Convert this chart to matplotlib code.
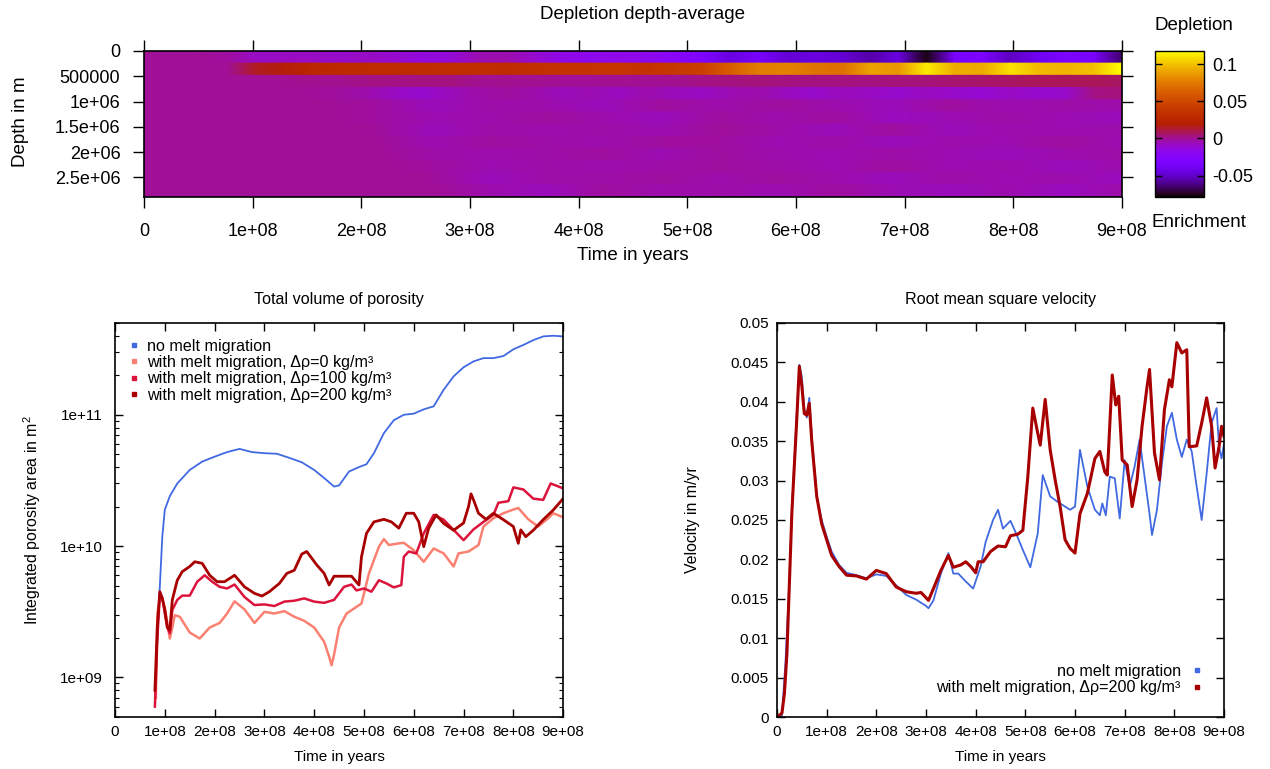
import numpy as np
import matplotlib
matplotlib.use("Agg")
import matplotlib.pyplot as plt
from matplotlib.ticker import FuncFormatter, MultipleLocator, LogLocator, NullFormatter
from matplotlib.cm import ScalarMappable
from matplotlib.colors import Normalize
from matplotlib.lines import Line2D

plt.rcParams['font.family'] = 'Liberation Sans'
plt.rcParams['mathtext.fontset'] = 'custom'
plt.rcParams['mathtext.rm'] = 'Liberation Sans'
plt.rcParams['mathtext.it'] = 'Liberation Sans:italic'
plt.rcParams['axes.linewidth'] = 1.2

MYR100 = 1e8  # time values below are given in units of 1e8 years

# ---- depth-averaged depletion (rows from surface downwards, samples evenly spread 0..9e8 yr) ----
depth_bottom = 2.89e6
dep_row_1 = [0, 0, 0, -0.002, -0.008, -0.008, -0.008, -0.009, -0.008, -0.010, -0.013, -0.012,
             -0.005, -0.004, -0.010, -0.016, -0.018, -0.016, -0.018, -0.022, -0.030, -0.045,
             -0.035, -0.048, -0.045, -0.048, -0.056, -0.045, -0.076, -0.035, -0.032, -0.052,
             -0.040, -0.032, -0.035, -0.065]
dep_row_2 = [0, 0, 0, 0, 0.015, 0.018, 0.026, 0.029, 0.030, 0.031, 0.031, 0.032,
             0.032, 0.031, 0.034, 0.036, 0.037, 0.038, 0.036, 0.040, 0.045, 0.062,
             0.076, 0.078, 0.072, 0.070, 0.090, 0.086, 0.112, 0.094, 0.092, 0.110,
             0.098, 0.096, 0.100, 0.118]
dep_row_3 = [0, 0, 0, 0, 0, 0, 0.001, 0.001, 0.002, 0.002, 0.003, 0.003,
             0.001, 0.001, 0.001, 0.000, 0.000, 0.001, 0.000, 0.001, 0.002, 0.003,
             0.004, 0.003, 0.003, 0.003, 0.003, 0.004, 0.004, 0.005, 0.006, 0.007,
             0.008, 0.008, 0.008, 0.007]
dep_row_4 = [0, 0, 0, 0, 0, 0, -0.001, -0.002, -0.004, -0.008, -0.010, -0.006,
             -0.003, -0.002, -0.004, -0.006, -0.005, -0.007, -0.004, -0.006, -0.008, -0.005,
             -0.004, -0.007, -0.009, -0.006, -0.008, -0.010, -0.007, -0.009, -0.011, -0.008,
             -0.010, -0.009, 0.002, 0.004]
dep_row_5 = [0, 0, 0, 0, -0.002, -0.006, -0.003, -0.004, -0.006, -0.002, -0.004, -0.002,
             -0.004, -0.006, -0.002, -0.005, -0.003, -0.004]
dep_row_6 = [0, 0, 0, 0, -0.002, -0.005, -0.004, -0.002, -0.004, -0.006, -0.002, -0.004,
             -0.002, -0.007, -0.005, -0.003, -0.005, -0.006]
dep_row_7 = [0, 0, 0, 0, -0.001, -0.006, -0.003, -0.004, -0.003, -0.005, -0.001, -0.003,
             -0.006, -0.002, -0.006, -0.004, -0.005, -0.004]
dep_row_8 = [0, 0, 0, 0, 0, -0.005, -0.002, -0.003, -0.004, -0.002, -0.002, -0.005,
             -0.003, -0.006, -0.004, -0.005, -0.002, -0.005]
dep_row_9 = [0, 0, 0, 0, 0, -0.003, -0.004, -0.003, -0.002, -0.005, -0.002, -0.004,
             -0.005, -0.003, -0.005, -0.006, -0.004, -0.003]
dep_row_10 = [0, 0, 0, 0, 0, -0.002, -0.005, -0.003, -0.004, -0.003, -0.002, -0.003,
              -0.005, -0.002, -0.005, -0.004, -0.006, -0.004]
dep_row_11 = [0, 0, 0, 0, 0, -0.001, -0.006, -0.003, -0.003, -0.002, -0.004, -0.002,
              -0.004, -0.006, -0.003, -0.005, -0.004, -0.007]
dep_row_12 = [0, 0, 0, 0, 0, 0, -0.004, -0.006, -0.002, -0.004, -0.003, -0.005,
              -0.002, -0.005, -0.006, -0.004, -0.007, -0.003]
dep_rows = [dep_row_1, dep_row_2, dep_row_3, dep_row_4, dep_row_5, dep_row_6,
            dep_row_7, dep_row_8, dep_row_9, dep_row_10, dep_row_11, dep_row_12]
dep_min, dep_max = -0.079, 0.118

# ---- total volume of porosity ----
por_t_nomelt = [0.80, 0.85, 0.90, 0.95, 1.00, 1.10, 1.25, 1.50, 1.75, 2.00, 2.25, 2.50, 2.75,
                3.00, 3.25, 3.50, 3.75, 4.00, 4.20, 4.40, 4.50, 4.70, 4.90, 5.05, 5.20, 5.40,
                5.60, 5.80, 6.00, 6.20, 6.40, 6.60, 6.80, 7.00, 7.20, 7.40, 7.60, 7.80, 8.00,
                8.20, 8.40, 8.60, 8.80, 9.00]
por_nomelt = [7e8, 2e9, 5e9, 1.2e10, 1.9e10, 2.4e10, 3.0e10, 3.8e10, 4.4e10, 4.8e10, 5.2e10,
              5.5e10, 5.2e10, 5.1e10, 5.05e10, 4.7e10, 4.35e10, 3.8e10, 3.3e10, 2.84e10,
              2.9e10, 3.7e10, 4.0e10, 4.2e10, 5.1e10, 7.25e10, 9.1e10, 1.0e11, 1.02e11,
              1.1e11, 1.16e11, 1.55e11, 1.96e11, 2.3e11, 2.55e11, 2.7e11, 2.7e11, 2.8e11,
              3.15e11, 3.4e11, 3.7e11, 3.95e11, 4.0e11, 3.95e11]

por_t_d0 = [0.82, 0.85, 0.90, 0.95, 1.00, 1.05, 1.10, 1.15, 1.20, 1.30, 1.50, 1.70, 1.90,
            2.10, 2.25, 2.40, 2.60, 2.80, 3.00, 3.20, 3.40, 3.60, 3.80, 4.00, 4.20, 4.30,
            4.35, 4.40, 4.50, 4.65, 4.80, 4.95, 5.10, 5.30, 5.40, 5.50, 5.70, 5.80, 6.00,
            6.20, 6.40, 6.60, 6.80, 6.90, 7.10, 7.30, 7.40, 7.60, 7.80, 8.00, 8.10, 8.30,
            8.50, 8.70, 8.80, 9.00]
por_d0 = [7e8, 3.07e9, 4.1e9, 3.9e9, 3.4e9, 2.6e9, 1.98e9, 2.4e9, 2.98e9, 2.9e9, 2.2e9,
          1.98e9, 2.4e9, 2.6e9, 3.07e9, 3.8e9, 3.3e9, 2.6e9, 3.16e9, 3.07e9, 3.2e9, 2.9e9,
          2.7e9, 2.4e9, 1.87e9, 1.44e9, 1.24e9, 1.5e9, 2.4e9, 3.07e9, 3.35e9, 3.66e9,
          6.2e9, 9.9e9, 1.13e10, 1.02e10, 1.05e10, 1.06e10, 9.3e9, 7.6e9, 9.6e9, 8.8e9,
          7.0e9, 8.8e9, 9.1e9, 1.02e10, 1.41e10, 1.63e10, 1.78e10, 1.9e10, 1.95e10,
          1.6e10, 1.41e10, 1.63e10, 1.78e10, 1.66e10]

por_t_d100 = [0.80, 0.85, 0.90, 0.95, 1.00, 1.05, 1.10, 1.15, 1.25, 1.35, 1.50, 1.65, 1.80,
              1.95, 2.10, 2.25, 2.40, 2.60, 2.80, 3.00, 3.20, 3.40, 3.60, 3.80, 4.00, 4.20,
              4.40, 4.60, 4.75, 4.85, 5.00, 5.15, 5.30, 5.45, 5.60, 5.75, 5.80, 5.90, 6.05,
              6.20, 6.40, 6.60, 6.80, 7.00, 7.20, 7.40, 7.60, 7.70, 7.90, 8.00, 8.20, 8.40,
              8.60, 8.75, 8.90, 9.00]
por_d100 = [6e8, 2e9, 4.37e9, 4.0e9, 3.07e9, 2.4e9, 2.17e9, 3.26e9, 3.9e9, 4.2e9, 4.2e9,
            5.36e9, 6.0e9, 5.36e9, 4.9e9, 4.76e9, 5.1e9, 4.1e9, 3.56e9, 3.6e9, 3.5e9, 3.78e9,
            3.84e9, 4.0e9, 3.78e9, 3.7e9, 3.9e9, 4.9e9, 5.1e9, 4.6e9, 4.76e9, 4.5e9, 5.5e9,
            5.2e9, 4.85e9, 5.05e9, 8.3e9, 9.1e9, 8.8e9, 1.25e10, 1.73e10, 1.59e10, 1.33e10,
            1.11e10, 1.34e10, 1.53e10, 1.73e10, 2.14e10, 2.2e10, 2.8e10, 2.7e10, 2.3e10,
            2.25e10, 3.0e10, 2.85e10, 2.75e10]

por_t_d200 = [0.80, 0.85, 0.90, 0.95, 1.00, 1.05, 1.10, 1.15, 1.25, 1.35, 1.50, 1.60, 1.75,
              1.90, 2.05, 2.20, 2.40, 2.60, 2.80, 2.95, 3.10, 3.30, 3.45, 3.60, 3.75, 3.85,
              3.95, 4.05, 4.20, 4.30, 4.40, 4.60, 4.75, 4.90, 4.95, 5.05, 5.20, 5.40, 5.55,
              5.70, 5.85, 6.00, 6.10, 6.20, 6.30, 6.45, 6.60, 6.80, 7.00, 7.10, 7.15, 7.20,
              7.30, 7.45, 7.60, 7.80, 8.00, 8.10, 8.15, 8.25, 8.40, 8.60, 8.80, 9.00]
por_d200 = [8e8, 2.5e9, 4.5e9, 4.0e9, 3.26e9, 2.4e9, 2.3e9, 3.9e9, 5.5e9, 6.4e9, 7.0e9,
            7.6e9, 7.4e9, 6.0e9, 5.36e9, 5.36e9, 6.0e9, 4.9e9, 4.37e9, 4.17e9, 4.5e9, 5.2e9,
            6.2e9, 6.55e9, 8.7e9, 9.1e9, 8.1e9, 7.2e9, 6.2e9, 5.06e9, 5.9e9, 5.9e9, 5.9e9,
            5.06e9, 8.3e9, 1.25e10, 1.53e10, 1.6e10, 1.53e10, 1.37e10, 1.78e10, 1.78e10,
            1.53e10, 9.9e9, 1.37e10, 1.73e10, 1.49e10, 1.32e10, 1.5e10, 2.0e10, 2.5e10,
            2.25e10, 1.78e10, 1.6e10, 1.78e10, 1.59e10, 1.41e10, 1.05e10, 1.33e10, 1.18e10,
            1.32e10, 1.59e10, 1.88e10, 2.3e10]

# ---- root mean square velocity ----
vel_t_nomelt = [0.00, 0.10, 0.17, 0.25, 0.30, 0.40, 0.45, 0.50, 0.55, 0.60, 0.65, 0.70, 0.80,
                0.90, 1.00, 1.10, 1.25, 1.40, 1.60, 1.80, 2.00, 2.20, 2.40, 2.60, 2.80, 3.00,
                3.05, 3.15, 3.30, 3.45, 3.55, 3.65, 3.80, 3.95, 4.10, 4.20, 4.35, 4.45, 4.55,
                4.70, 4.80, 4.95, 5.10, 5.25, 5.35, 5.50, 5.65, 5.80, 5.90, 6.00, 6.10, 6.25,
                6.40, 6.50, 6.55, 6.62, 6.70, 6.80, 6.90, 7.00, 7.10, 7.20, 7.30, 7.40, 7.50,
                7.55, 7.65, 7.75, 7.85, 7.95, 8.05, 8.15, 8.25, 8.35, 8.45, 8.55, 8.65, 8.75,
                8.85, 8.90, 8.95, 9.00]
vel_nomelt = [0.0, 0.0002, 0.0068, 0.0174, 0.0263, 0.0386, 0.0447, 0.0432, 0.039, 0.038,
              0.0405, 0.0356, 0.028, 0.025, 0.0229, 0.021, 0.0193, 0.0183, 0.018, 0.0176,
              0.0181, 0.0179, 0.0167, 0.0155, 0.0149, 0.0141, 0.0138, 0.0148, 0.0182,
              0.0208, 0.0182, 0.0182, 0.0172, 0.0163, 0.0191, 0.0222, 0.025, 0.0263, 0.0239,
              0.0249, 0.0235, 0.0212, 0.019, 0.0233, 0.0307, 0.028, 0.0273, 0.0267, 0.0263,
              0.0267, 0.0339, 0.0292, 0.0263, 0.0256, 0.0271, 0.0256, 0.0305, 0.0303, 0.0252,
              0.0326, 0.0292, 0.0318, 0.0352, 0.0305, 0.0258, 0.0231, 0.0263, 0.0322, 0.0369,
              0.0386, 0.0352, 0.033, 0.0352, 0.0337, 0.0292, 0.025, 0.0309, 0.0373, 0.0392,
              0.0343, 0.0328, 0.0347]

vel_t_d200 = [0.00, 0.10, 0.15, 0.20, 0.25, 0.30, 0.40, 0.45, 0.50, 0.55, 0.60, 0.65, 0.70,
              0.80, 0.90, 1.00, 1.10, 1.25, 1.40, 1.60, 1.80, 2.00, 2.20, 2.40, 2.60, 2.80,
              2.90, 3.05, 3.15, 3.30, 3.45, 3.55, 3.70, 3.80, 3.90, 4.00, 4.05, 4.15, 4.30,
              4.45, 4.60, 4.70, 4.85, 4.95, 5.05, 5.15, 5.25, 5.30, 5.40, 5.50, 5.60, 5.70,
              5.80, 5.90, 6.00, 6.10, 6.25, 6.40, 6.50, 6.60, 6.65, 6.75, 6.82, 6.88, 6.95,
              7.05, 7.15, 7.25, 7.35, 7.45, 7.50, 7.60, 7.70, 7.80, 7.90, 7.95, 8.05, 8.15,
              8.25, 8.30, 8.45, 8.55, 8.65, 8.75, 8.82, 8.90, 8.95, 9.00]
vel_d200 = [0.0, 0.0005, 0.003, 0.008, 0.017, 0.026, 0.038, 0.0445, 0.042, 0.0385, 0.0383,
            0.0398, 0.035, 0.028, 0.0245, 0.0225, 0.0205, 0.0191, 0.018, 0.0179, 0.0175,
            0.0186, 0.0182, 0.0165, 0.0159, 0.0157, 0.0158, 0.0148, 0.0163, 0.0186, 0.0205,
            0.019, 0.0193, 0.0197, 0.0191, 0.0183, 0.0197, 0.0197, 0.021, 0.0217, 0.0216,
            0.023, 0.0232, 0.0237, 0.0305, 0.0392, 0.036, 0.0345, 0.0403, 0.0339, 0.0301,
            0.0267, 0.0225, 0.0214, 0.0208, 0.0258, 0.0284, 0.0328, 0.0337, 0.0311, 0.0307,
            0.0434, 0.0396, 0.0407, 0.0326, 0.032, 0.0267, 0.0301, 0.0369, 0.0419, 0.0441,
            0.0335, 0.0301, 0.039, 0.0428, 0.0419, 0.0475, 0.0462, 0.0466, 0.0343, 0.0344,
            0.0373, 0.0405, 0.0369, 0.0316, 0.0343, 0.0369, 0.0356]

c_nomelt = '#4169e1'
c_d0 = '#fa8072'
c_d100 = '#dc143c'
c_d200 = '#a80000'

gfmt = FuncFormatter(lambda v, p: f"{v:g}")

fig = plt.figure(figsize=(12.7, 7.69), dpi=100)

# ---------------- depletion heat map ----------------
ax_h = fig.add_axes([0.1134, 0.7438, 0.770, 0.1899])
cmap = plt.get_cmap('gnuplot')
norm = Normalize(dep_min, dep_max)
n_rows = len(dep_rows)
row_h = depth_bottom / n_rows
for k, row in enumerate(dep_rows):
    # gouraud shading along time only: same values on the upper and lower edge of each layer
    t_samples = np.linspace(0, 9 * MYR100, len(row))
    X, Y = np.meshgrid(t_samples, [k * row_h, (k + 1) * row_h])
    C = np.vstack([row, row])
    ax_h.pcolormesh(X, Y, C, cmap=cmap, norm=norm, shading='gouraud', rasterized=True)
ax_h.set_xlim(0, 9 * MYR100)
ax_h.set_ylim(depth_bottom, 0)
ax_h.xaxis.set_major_locator(MultipleLocator(1e8))
ax_h.yaxis.set_major_locator(MultipleLocator(5e5))
ax_h.xaxis.set_major_formatter(gfmt)
ax_h.yaxis.set_major_formatter(gfmt)
ax_h.tick_params(direction='out', length=8, width=1.0, labelsize=13, pad=11,
                 top=True, right=True)
ax_h.tick_params(axis='y', pad=9)
ax_h.set_xlabel('Time in years', fontsize=13.5, labelpad=5)
fig.text(0.016, 0.842, 'Depth in m', rotation=90, fontsize=13.5, ha='center', va='center')
fig.text(0.506, 0.981, 'Depletion depth-average', fontsize=13.5, ha='center', va='center')

cax = fig.add_axes([0.9094, 0.7438, 0.0386, 0.1899])
cb = fig.colorbar(ScalarMappable(norm=norm, cmap=cmap), cax=cax)
cb.set_ticks([-0.05, 0, 0.05, 0.1])
cb.ax.yaxis.set_major_formatter(gfmt)
cb.outline.set_linewidth(1.0)
cax.tick_params(direction='in', length=5, width=1.0, left=True, right=True,
                labelsize=13, pad=6)
fig.text(0.909, 0.967, 'Depletion', fontsize=13.5, ha='left', va='center')
fig.text(0.907, 0.711, 'Enrichment', fontsize=13.5, ha='left', va='center')

# ---------------- porosity ----------------
ax_p = fig.add_axes([0.0906, 0.0676, 0.3528, 0.5124])
ax_p.set_yscale('log')
ax_p.plot(np.array(por_t_nomelt) * MYR100, por_nomelt, color=c_nomelt, lw=1.3)
ax_p.plot(np.array(por_t_d0) * MYR100, por_d0, color=c_d0, lw=1.8)
ax_p.plot(np.array(por_t_d100) * MYR100, por_d100, color=c_d100, lw=1.8)
ax_p.plot(np.array(por_t_d200) * MYR100, por_d200, color=c_d200, lw=2.0)
ax_p.set_xlim(0, 9 * MYR100)
ax_p.set_ylim(5e8, 5e11)
ax_p.xaxis.set_major_locator(MultipleLocator(1e8))
ax_p.xaxis.set_major_formatter(gfmt)
ax_p.yaxis.set_major_locator(LogLocator(base=10, numticks=10))
ax_p.yaxis.set_minor_locator(LogLocator(base=10, subs=np.arange(2, 10), numticks=10))
ax_p.yaxis.set_major_formatter(FuncFormatter(lambda v, p: f"{v:.0e}"))
ax_p.yaxis.set_minor_formatter(NullFormatter())
ax_p.tick_params(which='major', direction='in', length=6, width=1.0, labelsize=11,
                 top=True, right=True, pad=6)
ax_p.tick_params(axis='y', which='major', pad=9)
ax_p.tick_params(which='minor', direction='in', length=3, width=0.8, right=True)
ax_p.set_title('Total volume of porosity', fontsize=11.6, pad=14)
ax_p.set_xlabel('Time in years', fontsize=11, labelpad=8)
ax_p.set_ylabel('Integrated porosity area in m$^2$', fontsize=11.4, labelpad=12)


def dot(c):
    return Line2D([], [], color=c, marker='s', markersize=2.2, linestyle='none')


ax_p.legend([dot(c_nomelt), dot(c_d0), dot(c_d100), dot(c_d200)],
            ['no melt migration',
             'with melt migration, Δρ=0 kg/m³',
             'with melt migration, Δρ=100 kg/m³',
             'with melt migration, Δρ=200 kg/m³'],
            loc='upper left', bbox_to_anchor=(0.031, 0.96), frameon=False, fontsize=11.6,
            handlelength=0.6, handletextpad=0.55, labelspacing=0.08, borderpad=0,
            borderaxespad=0)

# ---------------- rms velocity ----------------
ax_v = fig.add_axes([0.6118, 0.0676, 0.352, 0.5124])
ax_v.plot(np.array(vel_t_nomelt) * MYR100, vel_nomelt, color=c_nomelt, lw=1.3)
ax_v.plot(np.array(vel_t_d200) * MYR100, vel_d200, color=c_d200, lw=2.2)
ax_v.set_xlim(0, 9 * MYR100)
ax_v.set_ylim(0, 0.05)
ax_v.xaxis.set_major_locator(MultipleLocator(1e8))
ax_v.yaxis.set_major_locator(MultipleLocator(0.005))
ax_v.xaxis.set_major_formatter(gfmt)
ax_v.yaxis.set_major_formatter(gfmt)
ax_v.tick_params(direction='in', length=6, width=1.0, labelsize=11, top=True, right=True,
                 pad=6)
ax_v.set_title('Root mean square velocity', fontsize=11.6, pad=14)
ax_v.set_xlabel('Time in years', fontsize=11, labelpad=8)
ax_v.set_ylabel('Velocity in m/yr', fontsize=11.4, labelpad=22)
ax_v.legend([dot(c_nomelt), dot(c_d200)],
            ['no melt migration', 'with melt migration, Δρ=200 kg/m³'],
            loc='lower right', bbox_to_anchor=(0.95, 0.055), frameon=False, fontsize=11.6,
            markerfirst=False, handlelength=0.6, handletextpad=0.7, labelspacing=0.1,
            borderpad=0, borderaxespad=0)

fig.savefig('out.png', dpi=100)
